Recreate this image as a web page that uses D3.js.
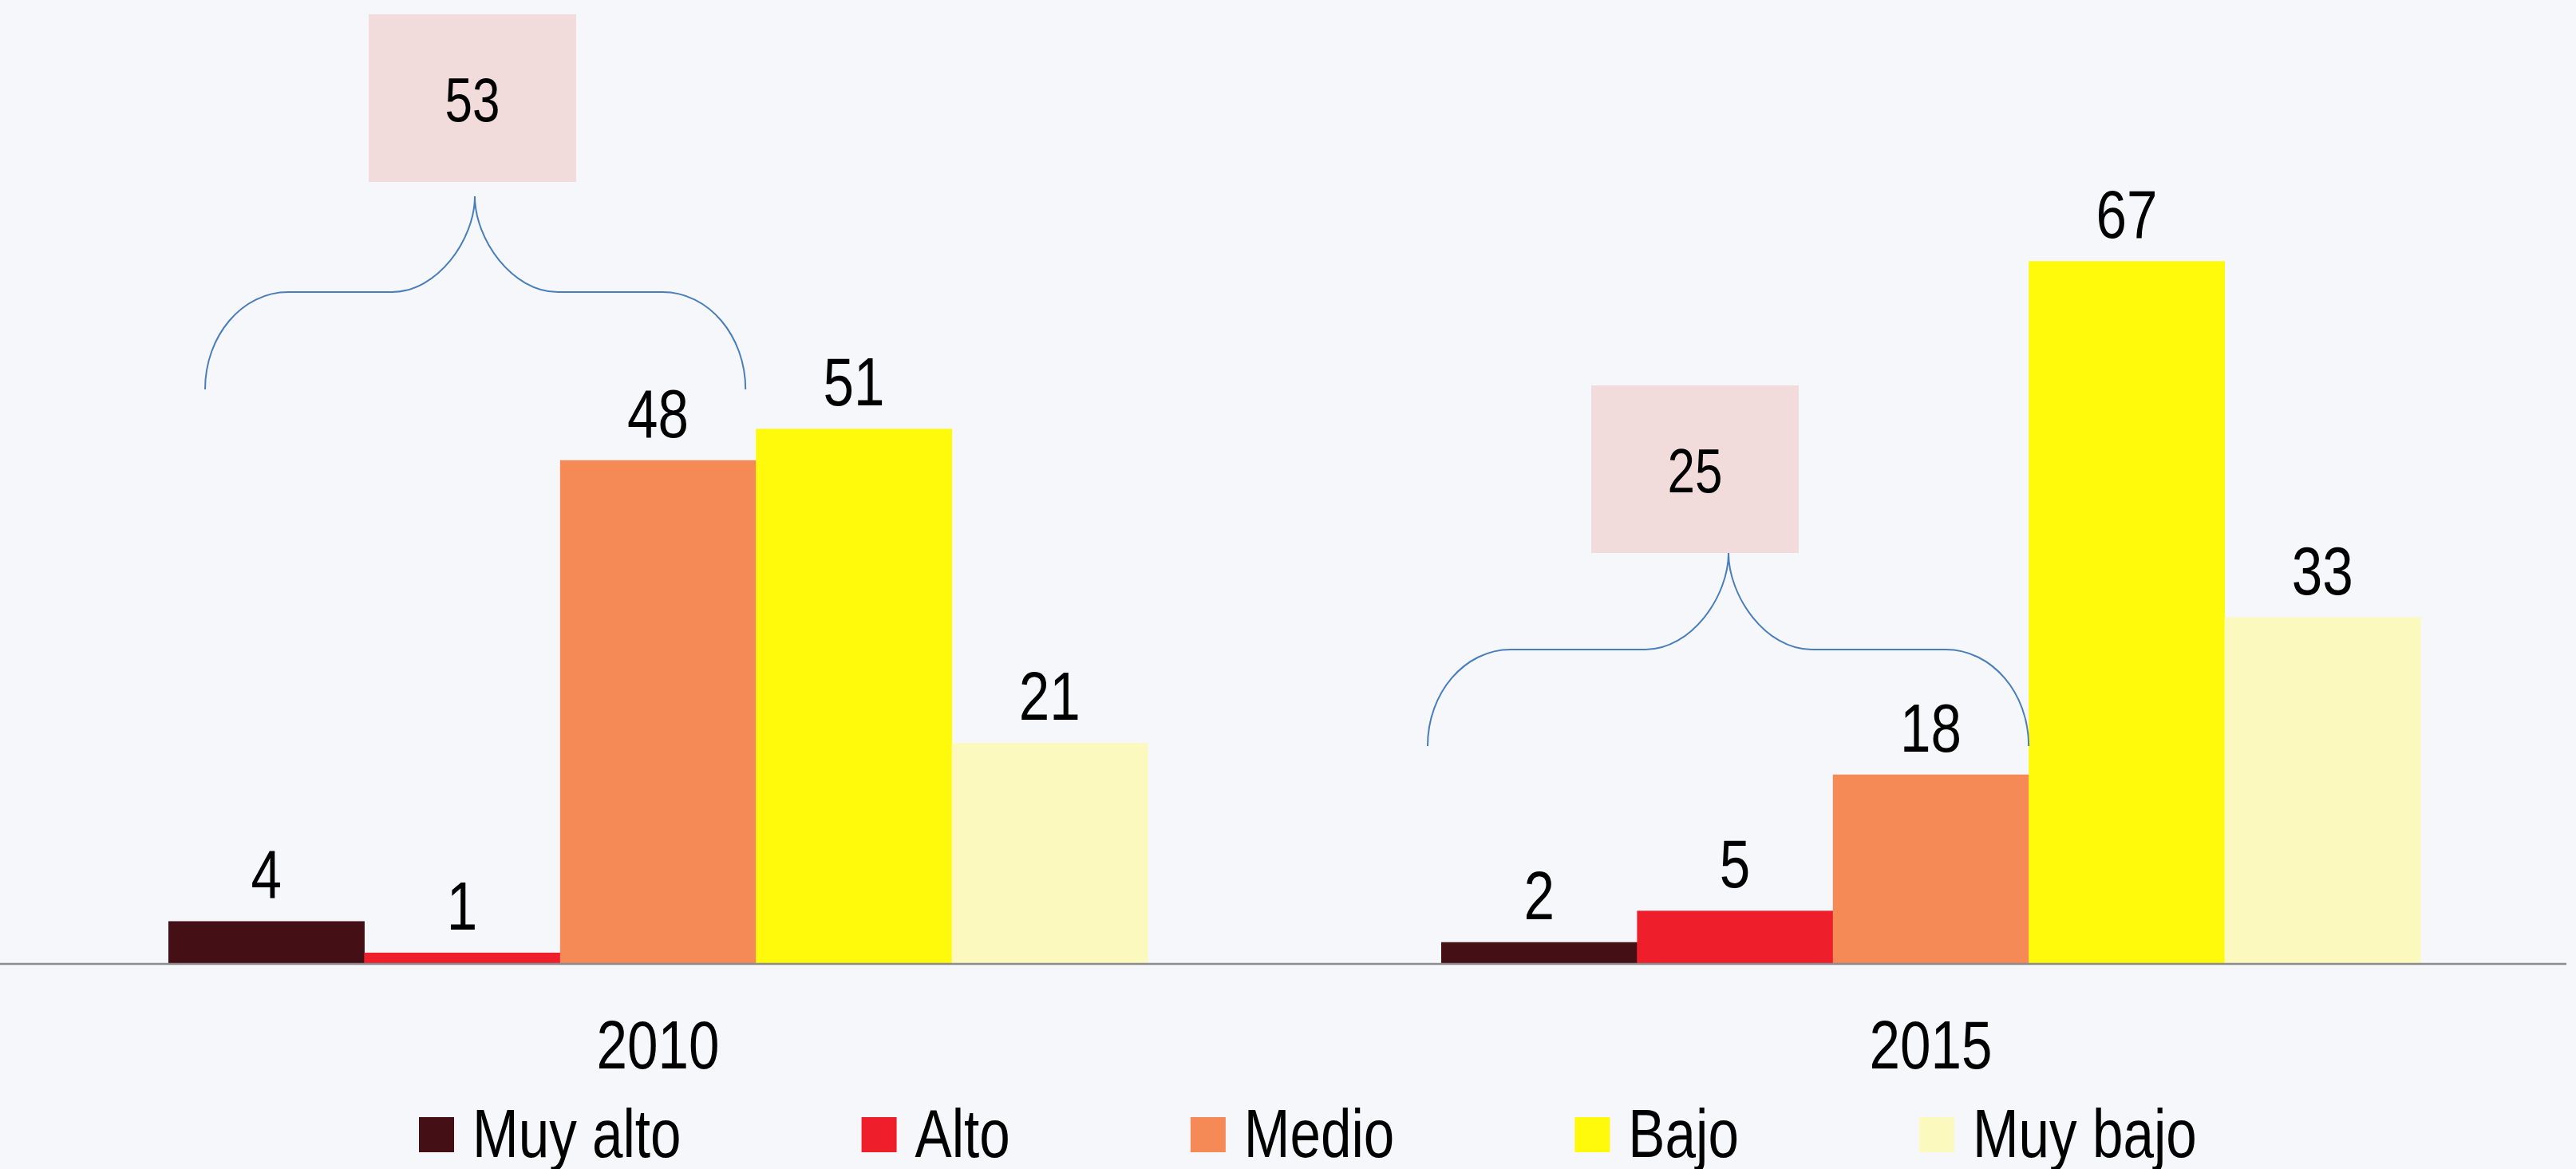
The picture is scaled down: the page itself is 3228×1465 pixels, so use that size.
<!DOCTYPE html>
<html>
<head>
<meta charset="utf-8">
<script src="https://cdn.jsdelivr.net/npm/d3@7"></script>
<style>
  html, body { margin: 0; padding: 0; background: #f5f7fb; }
  svg { display: block; }
  text { font-family: "Liberation Sans", Arial, sans-serif; }
</style>
</head>
<body>
<svg></svg>
<script>
// chart data
var years = ["2010", "2015"];
var levels = ["Muy alto", "Alto", "Medio", "Bajo", "Muy bajo"];
var values2010 = [4, 1, 48, 51, 21];
var values2015 = [2, 5, 18, 67, 33];
var colors = ["#451015", "#ee1f2b", "#f68a57", "#fff90b", "#fbf9be"];
// totals shown in the callout boxes (Muy alto + Alto + Medio)
var callouts = [53, 25];

var svgWidth = 3228, svgHeight = 1465;
var baseY = 1207;
var squeeze = 0.805; // the original uses a narrow face, fake it with a horizontal scale

var svg = d3.select("svg")
    .attr("width", svgWidth)
    .attr("height", svgHeight);

svg.append("rect")
    .attr("width", "100%")
    .attr("height", "100%")
    .attr("fill", "#f5f7fb");

function narrow(x, y) {
    return "translate(" + x + "," + y + ") scale(" + squeeze + ",1)";
}

var table = years.map(function (yr, i) {
    var vals = i === 0 ? values2010 : values2015;
    return { year: yr, items: levels.map(function (l, j) { return { level: l, value: vals[j] }; }) };
});

var x0 = d3.scaleBand()
    .domain(years)
    .range([0, 3244])
    .paddingInner(0.2307)
    .paddingOuter(0.1323);

var x1 = d3.scaleBand()
    .domain(levels)
    .range([0, x0.bandwidth()])
    .padding(0);

var y = d3.scaleLinear()
    .domain([0, 80])
    .range([baseY, baseY - 80 * 13.13]);

var color = d3.scaleOrdinal().domain(levels).range(colors);

var groups = svg.append("g").selectAll("g")
    .data(table)
    .enter().append("g")
    .attr("transform", function (d) { return "translate(" + x0(d.year) + ",0)"; });

groups.selectAll("rect")
    .data(function (d) { return d.items; })
    .enter().append("rect")
    .attr("x", function (d) { return x1(d.level); })
    .attr("y", function (d) { return y(d.value); })
    .attr("width", x1.bandwidth() + 0.5)
    .attr("height", function (d) { return y(0) - y(d.value); })
    .attr("fill", function (d) { return color(d.level); });

groups.selectAll("text.val")
    .data(function (d) { return d.items; })
    .enter().append("text")
    .attr("class", "val")
    .attr("transform", function (d) {
        return narrow(x1(d.level) + x1.bandwidth() / 2, y(d.value) - 29);
    })
    .attr("text-anchor", "middle")
    .attr("font-size", 86)
    .attr("fill", "#000")
    .text(function (d) { return d.value; });

// baseline
svg.append("line")
    .attr("x1", 0).attr("x2", 3216)
    .attr("y1", baseY + 1).attr("y2", baseY + 1)
    .attr("stroke", "#8c8c8c")
    .attr("stroke-width", 2.5);

// category axis labels
var xAxis = d3.axisBottom(x0).tickSize(0).tickPadding(0);
var ax = svg.append("g")
    .attr("transform", "translate(0," + baseY + ")")
    .call(xAxis);
ax.select(".domain").remove();
ax.selectAll("text")
    .attr("font-size", 86)
    .attr("fill", "#000")
    .attr("dy", 0)
    .attr("y", 0)
    .attr("transform", narrow(0, 132))
    .style("font-family", null);

// callout braces and boxes (layout per group)
var braceLayout = [
    { left: 46, right: -13, tip: 595, yTip: 246, yMid: 366, yEnd: 488, box: [462, 18] },
    { left: -17, right: 0, tip: 2166, yTip: 693, yMid: 814, yEnd: 935, box: [1994, 483] }
];

function bracePath(L, R, T, yTip, yMid, yEnd) {
    var rx = 104, k = 0.5523;
    var lo = yEnd - yMid, up = yMid - yTip;
    var p = d3.path();
    p.moveTo(L, yEnd);
    p.bezierCurveTo(L, yEnd - k * lo, L + rx - k * rx, yMid, L + rx, yMid);
    p.lineTo(T - rx, yMid);
    p.bezierCurveTo(T - rx + k * rx, yMid, T, yMid - k * up, T, yTip);
    p.bezierCurveTo(T, yMid - k * up, T + rx - k * rx, yMid, T + rx, yMid);
    p.lineTo(R - rx, yMid);
    p.bezierCurveTo(R - rx + k * rx, yMid, R, yEnd - k * lo, R, yEnd);
    return p.toString();
}

callouts.forEach(function (total, i) {
    var lay = braceLayout[i];
    var gx = x0(years[i]);
    var L = gx + x1(levels[0]) + lay.left;
    var R = gx + x1(levels[2]) + x1.bandwidth() + lay.right;
    svg.append("path")
        .attr("d", bracePath(L, R, lay.tip, lay.yTip, lay.yMid, lay.yEnd))
        .attr("fill", "none")
        .attr("stroke", "#4a7ebb")
        .attr("stroke-width", 2);
    svg.append("rect")
        .attr("x", lay.box[0]).attr("y", lay.box[1])
        .attr("width", 260).attr("height", 210)
        .attr("fill", "#f2dcdb");
    svg.append("text")
        .attr("transform", narrow(lay.box[0] + 130, lay.box[1] + 134))
        .attr("text-anchor", "middle")
        .attr("font-size", 77)
        .attr("fill", "#000")
        .text(total);
});

// legend
var legend = svg.append("g");
var lx = 525;
levels.forEach(function (l) {
    legend.append("rect")
        .attr("x", lx).attr("y", 1400)
        .attr("width", 44).attr("height", 44)
        .attr("fill", color(l));
    var t = legend.append("text")
        .attr("transform", narrow(lx + 67, 1450))
        .attr("font-size", 86)
        .attr("fill", "#000")
        .text(l);
    lx += 67 + t.node().getComputedTextLength() * squeeze + 226;
});
</script>
</body>
</html>
